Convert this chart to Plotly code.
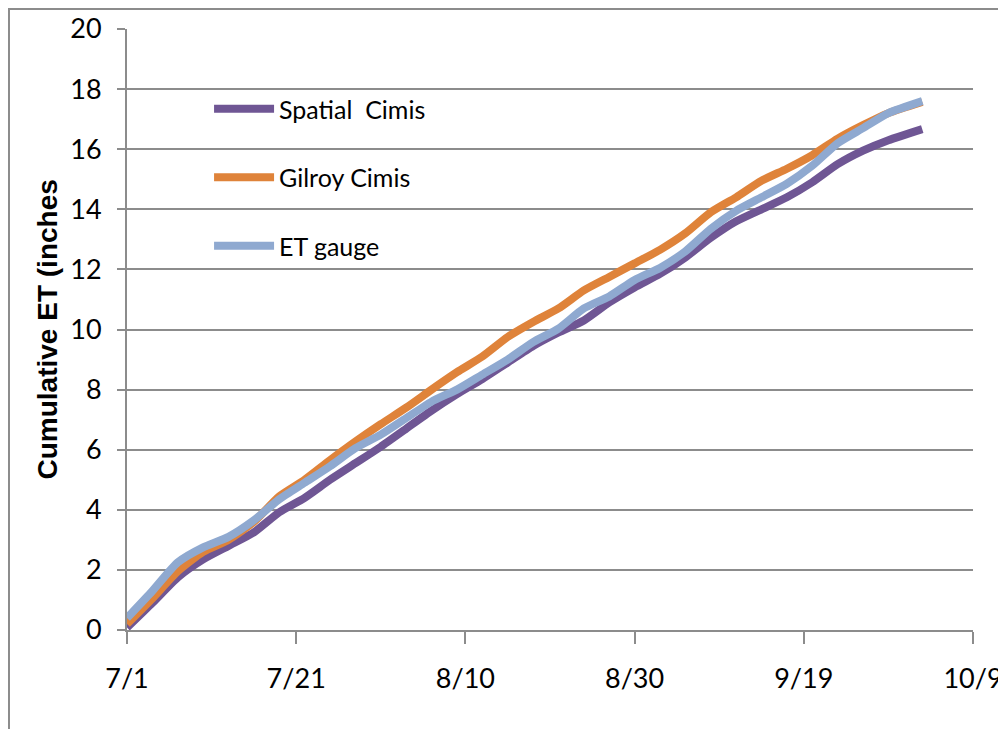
import datetime as dt
import plotly.graph_objects as go

# days after 7/1
dias = [0, 3, 6, 9, 12, 15, 18, 21, 24, 27, 30, 33, 36, 39, 42, 45, 48, 51,
        54, 57, 60, 63, 66, 69, 72, 75, 78, 81, 84, 87, 90, 94]

spatial_cimis = [0.08, 0.9, 1.75, 2.35, 2.8, 3.25, 3.92, 4.4, 5.0, 5.55, 6.1,
                 6.7, 7.3, 7.85, 8.35, 8.9, 9.45, 9.9, 10.3, 10.9, 11.4, 11.85,
                 12.4, 13.05, 13.6, 14.0, 14.4, 14.9, 15.5, 15.95, 16.3, 16.67]
gilroy_cimis = [0.2, 1.05, 1.95, 2.6, 3.0, 3.6, 4.45, 5.0, 5.65, 6.27, 6.85,
                7.4, 8.0, 8.58, 9.1, 9.75, 10.25, 10.7, 11.3, 11.75, 12.2, 12.65,
                13.2, 13.9, 14.4, 14.95, 15.35, 15.8, 16.35, 16.8, 17.2, 17.57]
et_gauge = [0.4, 1.3, 2.25, 2.75, 3.1, 3.65, 4.35, 4.9, 5.45, 6.05, 6.5,
            7.05, 7.6, 8.0, 8.5, 9.0, 9.58, 10.03, 10.7, 11.1, 11.65, 12.05,
            12.6, 13.35, 13.95, 14.4, 14.85, 15.45, 16.2, 16.7, 17.2, 17.6]

inicio = dt.date(2011, 7, 1)
datas = [inicio + dt.timedelta(days=d) for d in dias]

series = [
    ("Spatial  Cimis", spatial_cimis, "#6F5694"),
    ("Gilroy Cimis", gilroy_cimis, "#DF833A"),
    ("ET gauge", et_gauge, "#8FA9D0"),
]

fig = go.Figure()
for i, (nome, valores, cor) in enumerate(series):
    fig.add_trace(go.Scatter(
        x=datas, y=valores, name=nome, mode="lines",
        line=dict(color=cor, width=8, shape="spline", smoothing=0.6),
        legendgroup=f"g{i}",
    ))

fonte = "Lato, Liberation Sans, Arial"
cinza = "#8C8C8C"

# page body has an 8px margin, so the figure is a bit smaller than the window
fig.update_layout(
    width=998, height=721,
    paper_bgcolor="white", plot_bgcolor="white",
    margin=dict(l=119, r=33, t=21, b=99),
    font=dict(family=fonte, color="black", size=27),
    legend=dict(
        x=0.097, y=0.905, xanchor="left", yanchor="top",
        font=dict(size=25), tracegroupgap=33, itemwidth=60,
        bgcolor="rgba(0,0,0,0)",
    ),
    xaxis=dict(
        type="date", automargin=False,
        range=[inicio, inicio + dt.timedelta(days=100)],
        tick0=inicio, dtick=20 * 86400000, tickformat="%-m/%-d",
        showgrid=False, showline=True, linecolor=cinza, linewidth=2,
        ticks="outside", ticklen=12, tickcolor=cinza, tickwidth=2,
        ticklabelstandoff=12,
    ),
    yaxis=dict(
        range=[0, 20], dtick=2, automargin=False,
        showgrid=True, gridcolor=cinza, gridwidth=2,
        showline=True, linecolor=cinza, linewidth=2, zeroline=False,
        ticks="outside", ticklen=8, tickcolor=cinza, tickwidth=2,
        ticklabelstandoff=10,
    ),
    # outer chart-area frame (runs off the right and bottom edges)
    shapes=[dict(
        type="rect", xref="paper", yref="paper",
        x0=-0.1395, x1=1.06, y0=-0.2, y1=1.0333,
        line=dict(color=cinza, width=2), layer="below",
    )],
    annotations=[dict(
        text="<b>Cumulative ET (inches</b>", xref="paper", yref="paper",
        x=-0.0934, y=0.5, textangle=-90, showarrow=False,
        xanchor="center", yanchor="middle",
        font=dict(family="Liberation Sans, Arial", size=28),
    )],
)

fig.write_html("out.html")
